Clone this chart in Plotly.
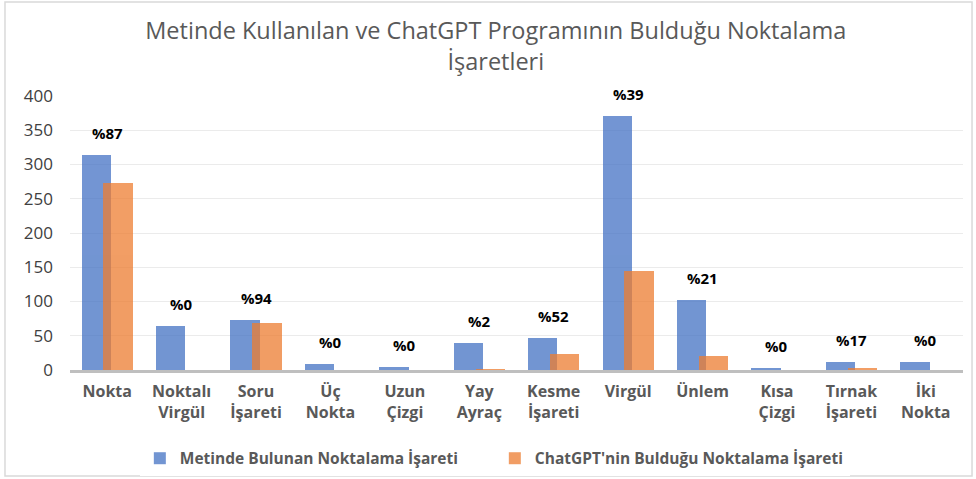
import plotly.graph_objects as go

categories = ["Nokta<br>", "Noktalı<br>Virgül", "Soru<br>İşareti", "Üç<br>Nokta", "Uzun<br>Çizgi",
              "Yay<br>Ayraç", "Kesme<br>İşareti", "Virgül<br>", "Ünlem<br>", "Kısa<br>Çizgi",
              "Tırnak<br>İşareti", "İki<br>Nokta"]
metinde = [314, 64, 73, 9, 4, 39, 46, 371, 102, 3, 12, 11]
chatgpt = [273, 0, 69, 0, 0, 1, 24, 144, 21, 0, 2, 0]
percent_labels = ["%87", "%0", "%94", "%0", "%0", "%2", "%52", "%39", "%21", "%0", "%17", "%0"]
y_ticks = [0, 50, 100, 150, 200, 250, 300, 350, 400]

FONT = "Open Sans"
GRAY = "#595959"

fig = go.Figure()
fig.add_trace(go.Bar(
    x=categories, y=metinde, name="Metinde Bulunan Noktalama İşareti",
    marker=dict(color="#4472C4", line=dict(width=0)), opacity=0.75,
    width=0.394, offset=-0.344,
))
fig.add_trace(go.Bar(
    x=categories, y=chatgpt, name="ChatGPT'nin Bulduğu Noktalama İşareti",
    marker=dict(color="#ED7D31", line=dict(width=0)), opacity=0.75,
    width=0.394, offset=-0.05,
))

for cat, a, b, lab in zip(categories, metinde, chatgpt, percent_labels):
    fig.add_annotation(x=cat, y=max(a, b), text=f"<b>{lab}</b>", showarrow=False,
                       yanchor="middle", yshift=22,
                       font=dict(family=FONT, size=15, color="#000000"))

fig.update_layout(
    width=976, height=479,
    margin=dict(l=70, r=13, t=96, b=109),
    paper_bgcolor="white", plot_bgcolor="white",
    barmode="overlay", bargap=0,
    title=dict(text="Metinde Kullanılan ve ChatGPT Programının Bulduğu Noktalama<br>İşaretleri",
               x=0.508, xanchor="center", xref="container", y=0.918, yanchor="top", yref="container",
               font=dict(family=FONT, size=23.5, color=GRAY)),
    showlegend=True,
    legend=dict(orientation="h", x=0.507, xanchor="center", xref="container", y=0.007, yanchor="bottom",
                yref="container",
                font=dict(family=FONT, size=15.5, color=GRAY, weight="bold"),
                itemwidth=30, tracegroupgap=0, entrywidthmode="pixels", entrywidth=310),
    shapes=[dict(type="rect", xref="paper", yref="paper", x0=-0.0728, x1=1.0101, y0=-0.387, y1=1.343,
                 line=dict(color="#d9d9d9", width=1.5), fillcolor="rgba(0,0,0,0)", layer="below")],
)
fig.update_xaxes(
    tickfont=dict(family=FONT, size=16, color=GRAY, weight="bold"),
    showline=True, linecolor="#bfbfbf", linewidth=2.5, showgrid=False, ticks="",
    ticklabelstandoff=5,
)
fig.update_yaxes(
    range=[0, 400], tickvals=y_ticks, ticktext=[str(v) for v in y_ticks],
    tickfont=dict(family=FONT, size=17, color="#404040"),
    showgrid=True, gridcolor="#ebebeb", gridwidth=1, zeroline=False, showline=False,
    ticks="", ticklabelstandoff=16,
)

fig.write_html("out.html", config={"displayModeBar": False},
               post_script="document.body.style.margin='0';")
